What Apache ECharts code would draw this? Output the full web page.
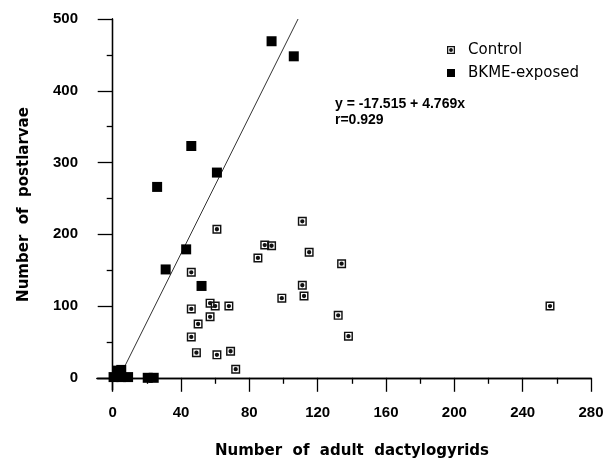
<!DOCTYPE html>
<html><head><meta charset="utf-8">
<script src="https://cdn.jsdelivr.net/npm/echarts@6/dist/echarts.min.js"></script>
<style>html,body{margin:0;padding:0;background:#fff}#c{width:610px;height:460px}</style>
</head><body><div id="c"></div>
<script>
// Control group
const controlX = [61, 89, 93, 85, 46, 99, 46, 57, 60, 68, 57, 50, 46, 49, 61, 69, 72, 111, 115, 134, 111, 112, 132, 138, 256];
const controlY = [207, 185, 184, 167, 147, 111, 96, 104, 100, 100, 85, 75, 57, 35, 32, 37, 12, 218, 175, 159, 129, 114, 87, 58, 100];
// BKME-exposed group
const bkmeX = [93, 106, 46, 61, 26, 43, 31, 52, 0.5, 3, 5, 5, 9, 20.5, 24];
const bkmeY = [469, 448, 323, 286, 266, 179, 151, 128, 1, 10, 11, 1, 1, 0, 0];
// Regression line end points
const regLineX = [3.7, 108.5];
const regLineY = [0, 500];
const equationLines = ['y = -17.515 + 4.769x', 'r=0.929'];
// Ticks
const xMajorTicks = [0, 40, 80, 120, 160, 200, 240, 280];
const xMinorTicks = [20, 60, 100, 140, 180, 220, 260];
const yMajorTicks = [0, 100, 200, 300, 400, 500];
const yMinorTicks = [50, 150, 250, 350, 450];
const seriesNames = ['Control', 'BKME-exposed'];
const xTitle = 'Number  of  adult  dactylogyrids';
const yTitle = 'Number  of  postlarvae';

const CONTROL_ICON = 'path://M0 0H10V10H0Z M1.6 1.6V8.4H8.4V1.6Z M5 2.6A2.4 2.4 0 1 1 5 7.4A2.4 2.4 0 1 1 5 2.6Z';
const zip = (a, b) => a.map((v, i) => [v, b[i]]);

const tickLabelStyle = {fontFamily: 'Liberation Sans', fontWeight: 'bold', fontSize: 15, color: '#000'};
const titleStyle = {fontFamily: 'DejaVu Sans', fontWeight: 'bold', fontSize: 15, color: '#000'};
const lineStyle = {color: '#000', width: 1.3};

const chart = echarts.init(document.getElementById('c'), null, {renderer: 'canvas'});
chart.setOption({
  animation: false,
  backgroundColor: '#fff',
  grid: {left: 97, top: 19, width: 494, height: 371, containLabel: false, outerBoundsMode: 'none'},
  xAxis: [
    {
      type: 'value', min: -9.2, max: 280, position: 'bottom',
      splitLine: {show: false},
      axisLine: {onZero: true, lineStyle: lineStyle},
      axisTick: {customValues: xMajorTicks, length: 14, lineStyle: lineStyle},
      axisLabel: Object.assign({customValues: xMajorTicks, margin: 15}, tickLabelStyle),
      name: xTitle, nameLocation: 'middle', nameGap: 54,
      nameTextStyle: Object.assign({padding: [0, 0, 0, 16]}, titleStyle)
    },
    {
      type: 'value', min: -9.2, max: 280, position: 'bottom',
      splitLine: {show: false},
      axisLine: {onZero: true, onZeroAxisIndex: 0, lineStyle: lineStyle},
      axisTick: {customValues: xMinorTicks, length: 6, lineStyle: lineStyle},
      axisLabel: {show: false}
    }
  ],
  yAxis: [
    {
      type: 'value', min: -17, max: 500, position: 'left',
      splitLine: {show: false},
      axisLine: {onZero: true, lineStyle: lineStyle},
      axisTick: {customValues: yMajorTicks, length: 15, lineStyle: lineStyle},
      axisLabel: Object.assign({customValues: yMajorTicks, margin: 19}, tickLabelStyle),
      name: yTitle, nameLocation: 'middle', nameGap: 65, nameRotate: 90,
      nameTextStyle: titleStyle
    },
    {
      type: 'value', min: -17, max: 500, position: 'left',
      splitLine: {show: false},
      axisLine: {onZero: true, onZeroAxisIndex: 0, lineStyle: lineStyle},
      axisTick: {customValues: yMinorTicks, length: 6, lineStyle: lineStyle},
      axisLabel: {show: false}
    }
  ],
  legend: {
    orient: 'vertical', left: 442, top: 37,
    itemWidth: 8, itemHeight: 8, itemGap: 7,
    data: [{name: seriesNames[0], icon: CONTROL_ICON}, {name: seriesNames[1], icon: 'rect'}],
    textStyle: {fontFamily: 'DejaVu Sans', fontSize: 15, color: '#000', lineHeight: 16, padding: [0, 0, 0, 8]}
  },
  graphic: [{
    type: 'text', left: 335, top: 96,
    style: {text: equationLines.join('\n'), fontFamily: 'Liberation Sans', fontWeight: 'bold', fontSize: 14, lineHeight: 16, fill: '#000'}
  }],
  series: [
    {
      type: 'line', name: 'regression', data: zip(regLineX, regLineY),
      xAxisIndex: 0, yAxisIndex: 0, symbol: 'none', silent: true, z: 1,
      lineStyle: {color: '#333', width: 1}
    },
    {
      type: 'scatter', name: seriesNames[0], data: zip(controlX, controlY),
      xAxisIndex: 0, yAxisIndex: 0, symbol: CONTROL_ICON, symbolSize: 9, z: 3,
      itemStyle: {color: '#111', opacity: 1}
    },
    {
      type: 'scatter', name: seriesNames[1], data: zip(bkmeX, bkmeY),
      xAxisIndex: 0, yAxisIndex: 0, symbol: 'rect', symbolSize: 10, z: 4,
      itemStyle: {color: '#000', opacity: 1}
    }
  ]
});
</script>
</body></html>
